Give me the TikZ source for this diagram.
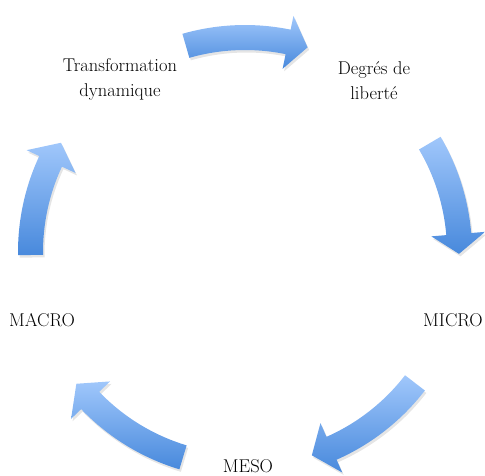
\documentclass[tikz,border=0pt]{standalone}
\usetikzlibrary{calc}
\definecolor{arrlight}{RGB}{160,199,251}
\definecolor{arrdark}{RGB}{72,137,220}
\newcommand{\cycarrow}[3]{%
  % #1 start angle, #2 tip angle, #3 head base angle
  \fill[black,opacity=0.10,shift={(1.5,-2.5)}]
    (#1:227) arc[start angle=#1,end angle=#3,radius=227] -- (#3:241) -- (#2:214) -- (#3:187) -- (#3:202)
    arc[start angle=#3,end angle=#1,radius=202] -- cycle;
  \shade[arrowfill]
    (#1:227) arc[start angle=#1,end angle=#3,radius=227] -- (#3:241) -- (#2:214) -- (#3:187) -- (#3:202)
    arc[start angle=#3,end angle=#1,radius=202] -- cycle;
}
\begin{document}
\begin{tikzpicture}[x=1pt,y=1pt,
  arrowfill/.style={top color=arrlight,bottom color=arrdark},
  lbl/.style={font=\fontsize{18.5}{25}\selectfont,align=center,inner sep=0pt,text=black}]
\useasboundingbox (0,0) rectangle (485,-475);
\begin{scope}[shift={(245,-252)}]
  \cycarrow{106}{73}{78.4}
  \cycarrow{30.5}{-0.5}{4.8}
  \cycarrow{-37.6}{-71.8}{-66.2}
  \cycarrow{-106.8}{-142}{-136.2}
  \cycarrow{180.8}{149.3}{155}
\end{scope}
\node[lbl] (td) at (120,-79) {Transformation\\dynamique};
\node[lbl] (dl) at (374,-81) {Degrés de\\liberté};
\node[lbl,anchor=base] (micro) at (453,-326) {MICRO};
\node[lbl,anchor=base] (meso) at (248,-472) {MESO};
\node[lbl,anchor=base] (macro) at (42,-326) {MACRO};
\end{tikzpicture}
\end{document}
